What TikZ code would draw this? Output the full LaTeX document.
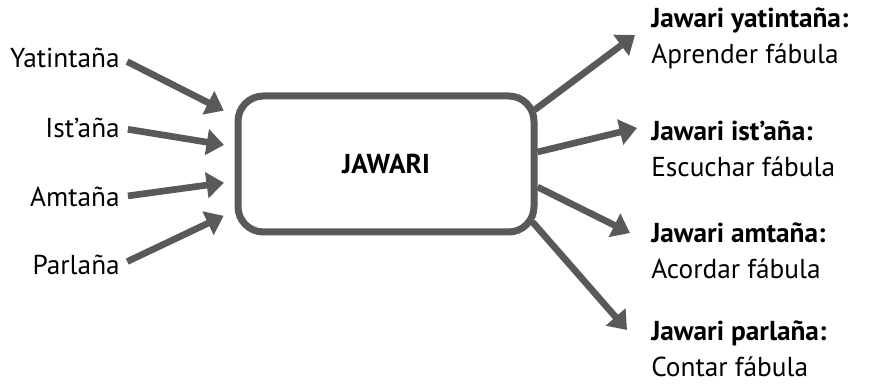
\documentclass[tikz,border=0pt]{standalone}
\usepackage{fontspec}
\setmainfont{PT Sans}
\usepackage{tikz}
\usetikzlibrary{arrows.meta, positioning}
\definecolor{grisoscuro}{HTML}{58595B}

\begin{document}
\begin{tikzpicture}[x=0.75pt, y=0.75pt, >={Triangle[length=13pt, width=19pt]}, text=black,
        font=\fontsize{20.5}{27}\selectfont,
        flecha/.style={->, line width=5pt, color=grisoscuro}]
        \useasboundingbox (0,0) rectangle (870,385);

        % Caja central
        \node[draw=grisoscuro, line width=5.25pt, rounded corners=19pt, minimum width=222pt, minimum height=102pt, inner sep=0pt, font=\fontsize{20.5}{27}\selectfont\bfseries] (jawari) at (386,221) {JAWARI};

        % Nodos de entrada
        \node[anchor=east, inner sep=0pt] (yat) at (120,327) {Yatintaña};
        \node[anchor=east, inner sep=0pt] (ist) at (120,257) {Ist’aña};
        \node[anchor=east, inner sep=0pt] (amt) at (120,188) {Amtaña};
        \node[anchor=east, inner sep=0pt] (par) at (120,120) {Parlaña};

        % Nodos de salida
        \node[anchor=north west, inner sep=0pt, align=left] (ryat) at (651,378) {\textbf{Jawari yatintaña:}\\Aprender fábula};
        \node[anchor=north west, inner sep=0pt, align=left] (rist) at (651,265) {\textbf{Jawari ist’aña:}\\Escuchar fábula};
        \node[anchor=north west, inner sep=0pt, align=left] (ramt) at (651,163) {\textbf{Jawari amtaña:}\\Acordar fábula};
        \node[anchor=north west, inner sep=0pt, align=left] (rpar) at (651,65) {\textbf{Jawari parlaña:}\\Contar fábula};

        % Flechas de entrada
        \draw[flecha, shorten <=6pt, shorten >=9pt] (yat.east) -- ([yshift=36pt]jawari.west);
        \draw[flecha, shorten <=6pt, shorten >=8pt] (ist.east) -- ([yshift=13pt]jawari.west);
        \draw[flecha, shorten <=6pt, shorten >=8pt] (amt.east) -- ([yshift=-13pt]jawari.west);
        \draw[flecha, shorten <=6pt, shorten >=9pt] (par.east) -- ([yshift=-35pt]jawari.west);

        % Flechas de salida
        \draw[flecha] ([shift={(-3,54)}]jawari.east) -- ([shift={(-16,-28)}]ryat.north west);
        \draw[flecha] ([shift={(0,12)}]jawari.east) -- ([shift={(-14,-8)}]rist.north west);
        \draw[flecha] ([shift={(0,-23)}]jawari.east) -- ([shift={(-21,-11)}]ramt.north west);
        \draw[flecha] ([shift={(-5,-58)}]jawari.east) -- ([shift={(-24,-10)}]rpar.north west);

    \end{tikzpicture}
\end{document}
